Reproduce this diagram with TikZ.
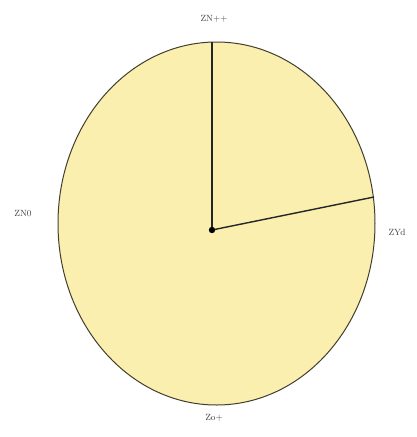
\documentclass[tikz,border=0pt]{standalone}
\usetikzlibrary{shapes.geometric}
\begin{document}
\begin{tikzpicture}[x=1pt,y=-1pt,
  lbl/.style={font=\small, text=black!75, inner sep=1pt},
  hand/.style={line width=1.4pt, draw=black!85}]
\useasboundingbox (0,0) rectangle (417,437);
\fill[white] (0,0) rectangle (417,437);
\node[draw=black!70!olive, line width=1pt, fill={rgb,255:red,250;green,239;blue,175}, ellipse, minimum width=317pt, minimum height=363pt, inner sep=0pt] (face) at (216.5,223.5) {};
\coordinate (c) at (212,230);
\coordinate (top) at (212,42);
\coordinate (rt) at (374,197);
\draw[hand] (c) -- (top);
\draw[hand] (c) -- (rt);
\fill[black] (c) circle (3.2pt);
\node[lbl] (t) at (214,19) {ZN++};
\node[lbl] (l) at (23,214) {ZN0};
\node[lbl] (r) at (397,232) {ZYd};
\node[lbl] (b) at (214,418) {Zo+};
\end{tikzpicture}
\end{document}
